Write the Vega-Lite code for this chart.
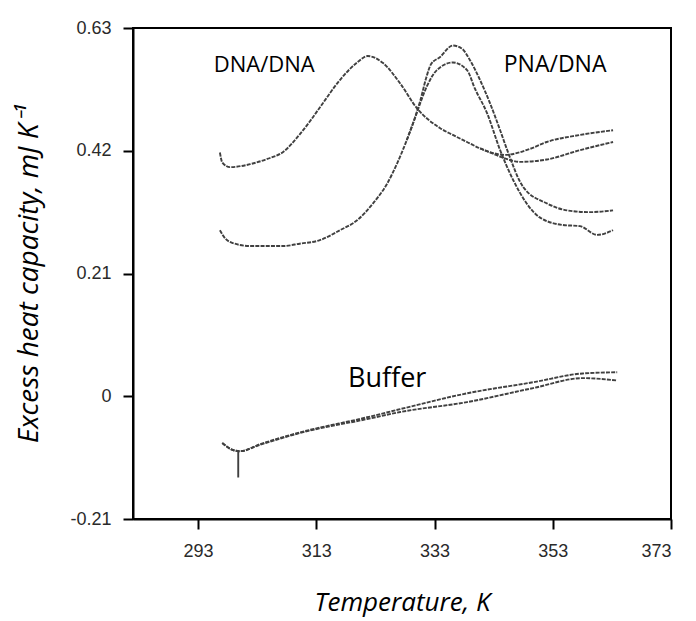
{
  "$schema": "https://vega.github.io/schema/vega-lite/v6.json",
  "width": 538,
  "height": 491,
  "autosize": {"type": "none"},
  "padding": {"left": 133, "top": 28, "right": 25, "bottom": 102},
  "background": "white",
  "config": {
    "view": {"stroke": "black", "strokeWidth": 2},
    "axis": {
      "grid": false,
      "domainColor": "black",
      "domainWidth": 2,
      "tickColor": "black",
      "tickWidth": 2,
      "tickSize": 10,
      "labelFont": "Liberation Sans",
      "labelFontSize": 18,
      "labelColor": "#2a2a2a",
      "titleFont": "Open Sans",
      "titleFontStyle": "italic",
      "titleFontWeight": "normal",
      "titleColor": "black"
    }
  },
  "datasets": {
    "curves": [
      {"s": "DNA1", "T": 296.7, "cp": 0.417}, {"s": "DNA1", "T": 297.1, "cp": 0.400}, {"s": "DNA1", "T": 298.4, "cp": 0.392}, {"s": "DNA1", "T": 301.8, "cp": 0.397}, {"s": "DNA1", "T": 304.7, "cp": 0.406}, {"s": "DNA1", "T": 307.4, "cp": 0.418}, {"s": "DNA1", "T": 310.2, "cp": 0.448}, {"s": "DNA1", "T": 311.9, "cp": 0.470}, {"s": "DNA1", "T": 313.6, "cp": 0.494}, {"s": "DNA1", "T": 317.0, "cp": 0.541}, {"s": "DNA1", "T": 319.9, "cp": 0.571}, {"s": "DNA1", "T": 321.7, "cp": 0.582}, {"s": "DNA1", "T": 324.3, "cp": 0.570}, {"s": "DNA1", "T": 327.2, "cp": 0.535}, {"s": "DNA1", "T": 330.0, "cp": 0.493}, {"s": "DNA1", "T": 333.9, "cp": 0.459}, {"s": "DNA1", "T": 336.1, "cp": 0.447}, {"s": "DNA1", "T": 338.5, "cp": 0.435}, {"s": "DNA1", "T": 340.7, "cp": 0.424}, {"s": "DNA1", "T": 342.9, "cp": 0.416},
      {"s": "DNA1", "T": 344.9, "cp": 0.413}, {"s": "DNA1", "T": 349.1, "cp": 0.423}, {"s": "DNA1", "T": 352.0, "cp": 0.435}, {"s": "DNA1", "T": 357.6, "cp": 0.447}, {"s": "DNA1", "T": 363.2, "cp": 0.455},
      {"s": "DNA2", "T": 340.7, "cp": 0.424}, {"s": "DNA2", "T": 342.9, "cp": 0.415}, {"s": "DNA2", "T": 344.9, "cp": 0.407}, {"s": "DNA2", "T": 347.5, "cp": 0.401}, {"s": "DNA2", "T": 352.0, "cp": 0.405}, {"s": "DNA2", "T": 357.6, "cp": 0.421}, {"s": "DNA2", "T": 363.2, "cp": 0.435},
      {"s": "PNA1", "T": 296.7, "cp": 0.284}, {"s": "PNA1", "T": 297.6, "cp": 0.270}, {"s": "PNA1", "T": 298.9, "cp": 0.262}, {"s": "PNA1", "T": 301.8, "cp": 0.257}, {"s": "PNA1", "T": 307.4, "cp": 0.257}, {"s": "PNA1", "T": 310.2, "cp": 0.261}, {"s": "PNA1", "T": 313.6, "cp": 0.267}, {"s": "PNA1", "T": 317.0, "cp": 0.284}, {"s": "PNA1", "T": 319.9, "cp": 0.301}, {"s": "PNA1", "T": 322.6, "cp": 0.330}, {"s": "PNA1", "T": 325.0, "cp": 0.364}, {"s": "PNA1", "T": 326.7, "cp": 0.399}, {"s": "PNA1", "T": 328.3, "cp": 0.438}, {"s": "PNA1", "T": 329.7, "cp": 0.477},
      {"s": "PNA1", "T": 330.6, "cp": 0.506}, {"s": "PNA1", "T": 331.6, "cp": 0.545}, {"s": "PNA1", "T": 332.4, "cp": 0.568}, {"s": "PNA1", "T": 333.9, "cp": 0.580}, {"s": "PNA1", "T": 336.1, "cp": 0.600}, {"s": "PNA1", "T": 337.6, "cp": 0.595}, {"s": "PNA1", "T": 339.0, "cp": 0.575}, {"s": "PNA1", "T": 340.7, "cp": 0.541}, {"s": "PNA1", "T": 342.4, "cp": 0.501}, {"s": "PNA1", "T": 344.1, "cp": 0.455}, {"s": "PNA1", "T": 345.3, "cp": 0.421}, {"s": "PNA1", "T": 348.0, "cp": 0.358}, {"s": "PNA1", "T": 352.0, "cp": 0.330}, {"s": "PNA1", "T": 355.4, "cp": 0.318}, {"s": "PNA1", "T": 359.3, "cp": 0.315}, {"s": "PNA1", "T": 363.2, "cp": 0.318},
      {"s": "PNA2", "T": 328.3, "cp": 0.438}, {"s": "PNA2", "T": 329.7, "cp": 0.476}, {"s": "PNA2", "T": 330.6, "cp": 0.502}, {"s": "PNA2", "T": 331.7, "cp": 0.530}, {"s": "PNA2", "T": 333.4, "cp": 0.558}, {"s": "PNA2", "T": 336.1, "cp": 0.571}, {"s": "PNA2", "T": 338.5, "cp": 0.558}, {"s": "PNA2", "T": 339.8, "cp": 0.527}, {"s": "PNA2", "T": 341.9, "cp": 0.484}, {"s": "PNA2", "T": 344.1, "cp": 0.421}, {"s": "PNA2", "T": 346.3, "cp": 0.370}, {"s": "PNA2", "T": 350.8, "cp": 0.306}, {"s": "PNA2", "T": 354.7, "cp": 0.293}, {"s": "PNA2", "T": 357.6, "cp": 0.291}, {"s": "PNA2", "T": 360.5, "cp": 0.276}, {"s": "PNA2", "T": 363.2, "cp": 0.284},
      {"s": "BUF1", "T": 297.1, "cp": -0.080}, {"s": "BUF1", "T": 298.9, "cp": -0.092}, {"s": "BUF1", "T": 300.1, "cp": -0.094}, {"s": "BUF1", "T": 303.5, "cp": -0.082}, {"s": "BUF1", "T": 310.2, "cp": -0.062}, {"s": "BUF1", "T": 321.6, "cp": -0.036}, {"s": "BUF1", "T": 327.2, "cp": -0.022}, {"s": "BUF1", "T": 338.5, "cp": 0.005}, {"s": "BUF1", "T": 349.7, "cp": 0.024}, {"s": "BUF1", "T": 358.1, "cp": 0.039}, {"s": "BUF1", "T": 363.9, "cp": 0.041},
      {"s": "BUF2", "T": 297.1, "cp": -0.080}, {"s": "BUF2", "T": 298.9, "cp": -0.092}, {"s": "BUF2", "T": 300.1, "cp": -0.094}, {"s": "BUF2", "T": 303.5, "cp": -0.083}, {"s": "BUF2", "T": 310.2, "cp": -0.063}, {"s": "BUF2", "T": 321.6, "cp": -0.039}, {"s": "BUF2", "T": 327.2, "cp": -0.027}, {"s": "BUF2", "T": 338.5, "cp": -0.010}, {"s": "BUF2", "T": 349.7, "cp": 0.014}, {"s": "BUF2", "T": 358.1, "cp": 0.031}, {"s": "BUF2", "T": 363.9, "cp": 0.027}
    ],
    "spike": [{"T": 299.8, "cp": -0.094, "cp2": -0.139}],
    "labels": [
      {"T": 304.2, "cp": 0.567, "text": "DNA/DNA", "size": 22},
      {"T": 353.4, "cp": 0.566, "text": "PNA/DNA", "size": 23},
      {"T": 325.0, "cp": 0.029, "text": "Buffer", "size": 27}
    ]
  },
  "layer": [
    {
      "data": {"name": "curves"},
      "mark": {"type": "line", "color": "#404040", "strokeWidth": 1.9, "strokeDash": [4, 1.2], "interpolate": "monotone"},
      "encoding": {
        "x": {
          "field": "T", "type": "quantitative",
          "scale": {"domain": [282, 373], "nice": false, "zero": false},
          "axis": {"values": [293, 313, 333, 353, 373], "format": "d", "labelPadding": 13, "title": "Temperature, K", "titleFontSize": 26, "titlePadding": 29}
        },
        "y": {
          "field": "cp", "type": "quantitative",
          "scale": {"domain": [-0.21, 0.63], "nice": false, "zero": false},
          "axis": {
            "values": [-0.21, 0, 0.21, 0.42, 0.63],
            "labelExpr": "datum.value < 0 ? '-' + format(-datum.value, '.2~f') : format(datum.value, '.2~f')",
            "labelPadding": 12,
            "title": "Excess heat capacity, mJ K⁻¹",
            "titleFontSize": 28,
            "titlePadding": 26
          }
        },
        "detail": {"field": "s"}
      }
    },
    {
      "data": {"name": "spike"},
      "mark": {"type": "rule", "color": "#404040", "strokeWidth": 1.9},
      "encoding": {
        "x": {"field": "T", "type": "quantitative"},
        "y": {"field": "cp", "type": "quantitative"},
        "y2": {"field": "cp2"}
      }
    },
    {
      "data": {"name": "labels"},
      "mark": {"type": "text", "font": "Open Sans", "color": "black", "align": "center", "baseline": "middle"},
      "encoding": {
        "x": {"field": "T", "type": "quantitative"},
        "y": {"field": "cp", "type": "quantitative"},
        "text": {"field": "text"},
        "size": {"field": "size", "type": "quantitative", "scale": null}
      }
    }
  ]
}
